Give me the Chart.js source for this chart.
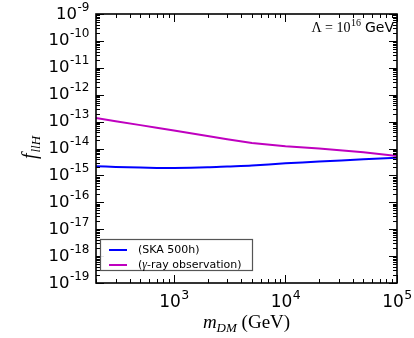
<!DOCTYPE html>
<html><head><meta charset="utf-8">
<script src="https://cdn.jsdelivr.net/npm/chart.js@4/dist/chart.umd.min.js"></script>
<style>html,body{margin:0;padding:0;background:#fff}#wrap{width:414px;height:338px;position:relative}</style>
</head><body><div id="wrap"><canvas id="c" width="414" height="338"></canvas></div>
<script>
// ---- data ----
const massGeV    = [200, 300, 500, 700, 1000, 2000, 3000, 5000, 10000, 20000, 50000, 100000];
const skaLimit   = [2.2e-15, 2.05e-15, 1.95e-15, 1.9e-15, 1.9e-15, 2.0e-15, 2.15e-15, 2.35e-15, 2.8e-15, 3.3e-15, 3.95e-15, 4.5e-15];
const gammaLimit = [1.35e-13, 1.03e-13, 7.4e-14, 5.9e-14, 4.7e-14, 2.9e-14, 2.2e-14, 1.6e-14, 1.22e-14, 1.0e-14, 7.2e-15, 5.3e-15];
const seriesNames = ['(SKA 500h)', '(γ-ray observation)'];
const seriesColors = ['#0000ff', '#bf00bf'];
const yTickExponents = [-9, -10, -11, -12, -13, -14, -15, -16, -17, -18, -19];
const xTickExponents = [3, 4, 5];
const xLimits = [200, 100000];
const yLimits = [1e-19, 1e-9];
const lambdaExponent = '16';

const SERIF = '"Liberation Serif", "DejaVu Serif", serif';
const SANS = '"DejaVu Sans", sans-serif';

function pts(xs, ys){ return xs.map((x,i)=>({x:x, y:ys[i]})); }

function drawPow(ctx, exp, x, y, align, baseSize, expSize, font){
  font = font || SANS;
  ctx.font = baseSize + 'px ' + font;
  const w1 = ctx.measureText('10').width;
  ctx.font = expSize + 'px ' + font;
  const w2 = ctx.measureText(exp).width;
  let x0 = align === 'right' ? x - w1 - w2 : (align === 'center' ? x - (w1 + w2)/2 : x);
  ctx.textAlign = 'left'; ctx.textBaseline = 'alphabetic';
  ctx.font = baseSize + 'px ' + font;
  ctx.fillText('10', x0, y);
  ctx.font = expSize + 'px ' + font;
  ctx.fillText(exp, x0 + w1 + 0.5, y - baseSize*0.48);
  return x0 + w1 + w2;
}

const framePlugin = {
  id: 'frame',
  afterDraw(chart){
    const ctx = chart.ctx, a = chart.chartArea;
    const xs = chart.scales.x, ys = chart.scales.y;
    ctx.save();
    ctx.fillStyle = '#000'; ctx.strokeStyle = '#000';
    // ticks
    ctx.lineWidth = 1;
    ctx.beginPath();
    for (let e = -19; e <= -9; e++) {
      for (let k = 1; k <= 9; k++) {
        const v = k * Math.pow(10, e);
        if (v < yLimits[0]*0.999 || v > yLimits[1]*1.001) continue;
        const p = Math.round(ys.getPixelForValue(v)) + 0.5;
        const L = k === 1 ? 8 : 4;
        ctx.moveTo(a.left, p); ctx.lineTo(a.left + L, p);
        ctx.moveTo(a.right, p); ctx.lineTo(a.right - L, p);
      }
    }
    for (let e = 2; e <= 5; e++) {
      for (let k = 1; k <= 9; k++) {
        const v = k * Math.pow(10, e);
        if (v < xLimits[0]*0.999 || v > xLimits[1]*1.001) continue;
        const p = Math.round(xs.getPixelForValue(v)) + 0.5;
        const L = k === 1 ? 8 : 4;
        ctx.moveTo(p, a.bottom); ctx.lineTo(p, a.bottom - L);
        ctx.moveTo(p, a.top); ctx.lineTo(p, a.top + L);
      }
    }
    ctx.stroke();
    // frame
    ctx.lineWidth = 1.6;
    ctx.strokeRect(a.left, a.top, a.right - a.left, a.bottom - a.top);
    // y tick labels
    yTickExponents.forEach(e => {
      const p = ys.getPixelForValue(Math.pow(10, e));
      drawPow(ctx, String(e), 89, p + 4.5, 'right', 16.5, 12);
    });
    // x tick labels
    xTickExponents.forEach(e => {
      const p = xs.getPixelForValue(Math.pow(10, e));
      drawPow(ctx, String(e), p, 307, 'center', 17, 12.5);
    });
    // x title
    {
      const cx = (a.left + a.right) / 2, by = 328;
      ctx.font = 'italic 19px ' + SERIF; const wm = ctx.measureText('m').width;
      ctx.font = 'italic 13px ' + SERIF; const ws = ctx.measureText('DM').width;
      ctx.font = '19px ' + SERIF; const wg = ctx.measureText(' (GeV)').width;
      let x0 = cx - (wm + ws + wg)/2;
      ctx.textAlign = 'left'; ctx.textBaseline = 'alphabetic';
      ctx.font = 'italic 19px ' + SERIF; ctx.fillText('m', x0, by);
      ctx.font = 'italic 13px ' + SERIF; ctx.fillText('DM', x0 + wm, by + 4);
      ctx.font = '19px ' + SERIF; ctx.fillText(' (GeV)', x0 + wm + ws, by);
    }
    // y title
    {
      ctx.save();
      ctx.translate(36, 148);
      ctx.rotate(-Math.PI/2);
      ctx.font = 'italic 20px ' + SERIF; const wf = ctx.measureText('f').width;
      ctx.font = 'italic 13px ' + SERIF; const ws = ctx.measureText('llH').width;
      const x0 = -(wf + ws)/2;
      ctx.textAlign = 'left'; ctx.textBaseline = 'alphabetic';
      ctx.font = 'italic 20px ' + SERIF; ctx.fillText('f', x0, 0);
      ctx.font = 'italic 13px ' + SERIF; ctx.fillText('llH', x0 + wf + 1, 4);
      ctx.restore();
    }
    // annotation
    {
      const rx = 394, by = 32;
      ctx.font = '14px ' + SANS; const wg = ctx.measureText(' GeV').width;
      ctx.font = '14px ' + SERIF; const wa = ctx.measureText('Λ = 10').width;
      ctx.font = '10px ' + SERIF; const we = ctx.measureText(lambdaExponent).width;
      let x0 = rx - wg - wa - we;
      ctx.textAlign = 'left';
      ctx.font = '14px ' + SERIF; ctx.fillText('Λ = 10', x0, by);
      ctx.font = '10px ' + SERIF; ctx.fillText(lambdaExponent, x0 + wa + 0.5, by - 6);
      ctx.font = '14px ' + SANS; ctx.fillText(' GeV', x0 + wa + we, by);
    }
    // legend
    {
      const lx = 100.5, ly = 239.5, lw = 152, lh = 31;
      ctx.fillStyle = 'rgba(255,255,255,0.9)';
      ctx.fillRect(lx, ly, lw, lh);
      ctx.strokeStyle = '#555'; ctx.lineWidth = 1.2;
      ctx.strokeRect(lx, ly, lw, lh);
      chart.data.datasets.forEach((ds, i) => {
        const y = 250 + i * 15;
        ctx.strokeStyle = ds.borderColor; ctx.lineWidth = 2;
        ctx.beginPath(); ctx.moveTo(109, y); ctx.lineTo(127, y); ctx.stroke();
        ctx.fillStyle = '#000'; ctx.textAlign = 'left'; ctx.textBaseline = 'middle';
        const label = ds.label;
        if (label.indexOf('γ') >= 0) {
          let x = 138;
          const parts = label.split('γ');
          ctx.font = '11px ' + SANS; ctx.fillText(parts[0], x, y); x += ctx.measureText(parts[0]).width;
          ctx.font = 'italic 12px ' + SERIF; ctx.fillText('γ', x, y); x += ctx.measureText('γ').width;
          ctx.font = '11px ' + SANS; ctx.fillText(parts[1], x, y);
        } else {
          ctx.font = '11px ' + SANS; ctx.fillText(label, 138, y);
        }
      });
    }
    ctx.restore();
  }
};

new Chart(document.getElementById('c'), {
  type: 'line',
  data: {
    datasets: [
      { label: seriesNames[0], data: pts(massGeV, skaLimit), borderColor: seriesColors[0], borderWidth: 2, pointRadius: 0, tension: 0.3, fill: false },
      { label: seriesNames[1], data: pts(massGeV, gammaLimit), borderColor: seriesColors[1], borderWidth: 2, pointRadius: 0, tension: 0, fill: false }
    ]
  },
  options: {
    responsive: false, animation: false,
    layout: { padding: { left: 96, right: 17, top: 14, bottom: 55 } },
    plugins: { legend: { display: false }, tooltip: { enabled: false } },
    scales: {
      x: { type: 'logarithmic', min: xLimits[0], max: xLimits[1],
           ticks: { display: false }, grid: { display: false, drawTicks: false }, border: { display: false } },
      y: { type: 'logarithmic', min: yLimits[0], max: yLimits[1],
           ticks: { display: false }, grid: { display: false, drawTicks: false }, border: { display: false } }
    }
  },
  plugins: [framePlugin]
});
</script></body></html>
